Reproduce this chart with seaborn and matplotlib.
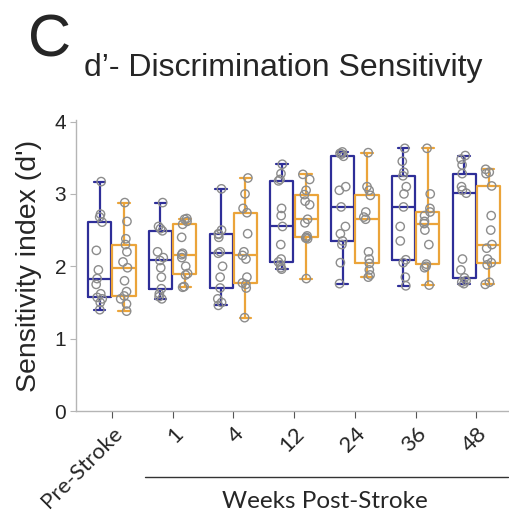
import numpy as np
import pandas as pd
import matplotlib
matplotlib.use("Agg")
import matplotlib.pyplot as plt
from matplotlib.lines import Line2D
from matplotlib.transforms import ScaledTranslation
import seaborn as sns

categories = ["Pre-Stroke", "1", "4", "12", "24", "36", "48"]
groups = ["Cohort A", "Cohort B"]

blue_vals = {
    "Pre-Stroke": [1.40, 1.50, 1.55, 1.57, 1.62, 1.75, 1.83, 1.95, 2.22, 2.61, 2.68, 2.72, 3.17],
    "1":  [1.55, 1.58, 1.62, 1.69, 1.85, 1.98, 2.08, 2.12, 2.20, 2.49, 2.52, 2.55, 2.88],
    "4":  [1.46, 1.50, 1.55, 1.70, 1.85, 2.00, 2.18, 2.20, 2.40, 2.44, 2.45, 2.50, 3.07],
    "12": [1.96, 1.98, 2.02, 2.06, 2.10, 2.30, 2.55, 2.70, 2.80, 3.18, 3.20, 3.28, 3.41],
    "24": [1.76, 2.05, 2.30, 2.35, 2.45, 2.55, 2.82, 3.05, 3.10, 3.52, 3.55, 3.56, 3.58],
    "36": [1.73, 1.85, 2.05, 2.09, 2.35, 2.55, 2.82, 3.00, 3.10, 3.25, 3.30, 3.45, 3.63],
    "48": [1.76, 1.78, 1.80, 1.84, 1.95, 2.10, 3.01, 3.05, 3.10, 3.28, 3.40, 3.48, 3.53],
}
orange_vals = {
    "Pre-Stroke": [1.38, 1.48, 1.55, 1.59, 1.65, 1.80, 1.98, 2.06, 2.20, 2.30, 2.38, 2.62, 2.88],
    "1":  [1.71, 1.72, 1.88, 1.90, 2.00, 2.12, 2.16, 2.18, 2.40, 2.58, 2.62, 2.65, 2.66],
    "4":  [1.29, 1.70, 1.75, 1.77, 1.85, 2.10, 2.15, 2.20, 2.45, 2.74, 2.80, 3.00, 3.22],
    "12": [1.83, 2.38, 2.39, 2.40, 2.42, 2.60, 2.65, 2.85, 2.90, 2.99, 3.05, 3.20, 3.27],
    "24": [1.85, 1.88, 1.95, 2.04, 2.10, 2.20, 2.65, 2.68, 2.75, 2.98, 3.05, 3.10, 3.57],
    "36": [1.74, 1.98, 2.00, 2.03, 2.30, 2.50, 2.59, 2.62, 2.70, 2.75, 2.80, 3.00, 3.63],
    "48": [1.75, 1.78, 2.02, 2.05, 2.10, 2.25, 2.30, 2.50, 2.70, 3.11, 3.28, 3.30, 3.34],
}

rows = []
for c in categories:
    for v in blue_vals[c]:
        rows.append((c, groups[0], v))
    for v in orange_vals[c]:
        rows.append((c, groups[1], v))
df = pd.DataFrame(rows, columns=["time", "group", "dprime"])

navy = "#2E2E98"
orange = "#EBA43A"
arial = ["Liberation Sans", "DejaVu Sans"]

sns.set_style("white")
plt.rcParams["font.family"] = ["Lato", "DejaVu Sans"]

fig = plt.figure(figsize=(5.10, 5.29), dpi=100)
ax = fig.add_axes([0.149, 0.223, 0.847, 0.550])

sns.boxplot(data=df, x="time", y="dprime", hue="group", order=categories,
            hue_order=groups, palette=[navy, orange], fill=False,
            linewidth=1.6, showfliers=False, width=0.8, gap=0.05,
            whis=1.5, ax=ax, legend=False)
sns.stripplot(data=df, x="time", y="dprime", hue="group", order=categories,
              hue_order=groups, palette=["#8a8a8a", "#8a8a8a"], dodge=True,
              jitter=0.12, size=6, linewidth=1.0, ax=ax, legend=False)
for coll in ax.collections:
    coll.set_facecolor("none")
    coll.set_edgecolor("#8c8c8c")
    coll.set_linewidth(1.0)

ax.set_xlim(-0.59, 6.52)
ax.set_ylim(0, 4.02)
ax.set_yticks([0, 1, 2, 3, 4])
ax.set_yticklabels(["0", "1", "2", "3", "4"], fontsize=15, family=arial)
ax.set_xticks(range(len(categories)))
ax.set_xticklabels(categories, fontsize=16, rotation=45, ha="right",
                   rotation_mode="anchor")
shift = ScaledTranslation(-6 / 100, -3 / 100, fig.dpi_scale_trans)
for lab in ax.get_xticklabels():
    lab.set_transform(lab.get_transform() + shift)
ax.set_xlabel("")
ax.set_ylabel("Sensitivity index (d')", fontsize=20.5, labelpad=9, family=arial)

for s in ["top", "right"]:
    ax.spines[s].set_visible(False)
for s in ["left", "bottom"]:
    ax.spines[s].set_color("#b5b5b5")
    ax.spines[s].set_linewidth(1.0)
ax.tick_params(axis="y", length=4, color="#b5b5b5", direction="out", left=True, pad=3)
ax.tick_params(axis="x", length=5, color="#555555", direction="out", bottom=True, pad=4)

# group annotation
fig.add_artist(Line2D([145 / 510, 508 / 510], [1 - 477 / 529, 1 - 477 / 529],
                      color="#333333", linewidth=1.0))
fig.text(325 / 510, 1 - 502 / 529, "Weeks Post-Stroke", fontsize=17.5,
         ha="center", va="center")

fig.text(28 / 510, 1 - 41 / 529, "C", fontsize=43, ha="left", va="center",
         family=arial)
fig.text(84 / 510, 1 - 68 / 529, "d\u2019- Discrimination Sensitivity", fontsize=23,
         ha="left", va="center", family=arial)

fig.savefig("out.png", dpi=100)
